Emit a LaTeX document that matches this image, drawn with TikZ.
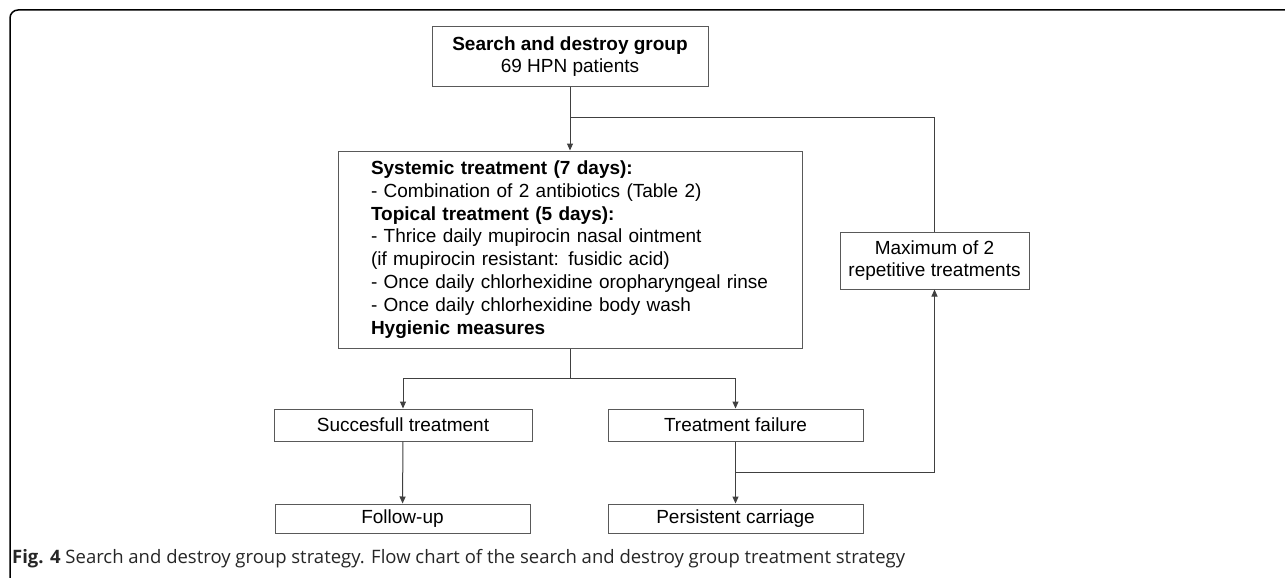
\documentclass[tikz,border=0pt]{standalone}
\usepackage{fontspec}
\setmainfont{Liberation Sans}
\newfontfamily\capfont{Open Sans}
\usetikzlibrary{arrows.meta}

\begin{document}
\begin{tikzpicture}[x=1pt,y=-1pt]
    \useasboundingbox (0,0) rectangle (1285,578);
    \clip (0,0) rectangle (1285,578);
    \tikzset{box/.style = {draw=black!65, line width=1pt, inner sep=0pt, align=center,
                           font=\fontsize{19}{22.5}\selectfont},
             arr/.style = {draw=black!75, line width=1pt, -{Triangle[length=7pt,width=6pt]}},
             ln/.style  = {draw=black!75, line width=1pt}}

    % frame
    \draw[line width=1.5pt, rounded corners=8pt] (1300,10) -- (10,10) -- (10,586) -- (40,586);

    \node[box, minimum width=276pt, minimum height=59pt] (grp) at (570,56.5)
        {\textbf{Search and destroy group}\\69 HPN patients};
    \node[box, text width=398pt, align=left, minimum width=464pt, minimum height=197pt,
          font=\fontsize{19}{22.8}\selectfont] (trt) at (570,249.5)
        {\textbf{Systemic treatment (7 days):}\\
         - Combination of 2 antibiotics (Table 2)\\
         \textbf{Topical treatment (5 days):}\\
         - Thrice daily mupirocin nasal ointment\\
         (if mupirocin resistant: fusidic acid)\\
         - Once daily chlorhexidine oropharyngeal rinse\\
         - Once daily chlorhexidine body wash\\
         \textbf{Hygienic measures}};
    \node[box, minimum width=189pt, minimum height=57pt] (rep) at (934.5,260.5)
        {Maximum of 2\\repetitive treatments};
    \node[box, minimum width=258pt, minimum height=32pt] (ok) at (403,425) {Succesfull treatment};
    \node[box, minimum width=255pt, minimum height=32pt] (fail) at (735.5,425) {Treatment failure};
    \node[box, minimum width=255pt, minimum height=29pt] (fup) at (402.5,518.5) {Follow-up};
    \node[box, minimum width=255pt, minimum height=29pt] (pers) at (735.5,518.5) {Persistent carriage};

    \coordinate (join) at (570,117);
    \coordinate (split) at (570,378);
    \coordinate (back) at (fail.south |- 0,472);

    \draw[arr] (grp) -- (trt);
    \draw[ln] (rep.north) |- (join);
    \draw[ln] (trt.south) -- (split);
    \draw[arr] (split) -| (ok.north);
    \draw[arr] (split) -| (fail.north);
    \draw[arr] (ok) -- (fup);
    \draw[arr] (fail) -- (pers);
    \draw[arr] (back) -| (rep.south);

    \node[anchor=west, inner sep=0pt, text=black!85, font=\capfont\fontsize{18.5}{22}\selectfont] (cap) at (12,559)
        {\textbf{Fig. 4} Search and destroy group strategy. Flow chart of the search and destroy group treatment strategy};
\end{tikzpicture}
\end{document}
